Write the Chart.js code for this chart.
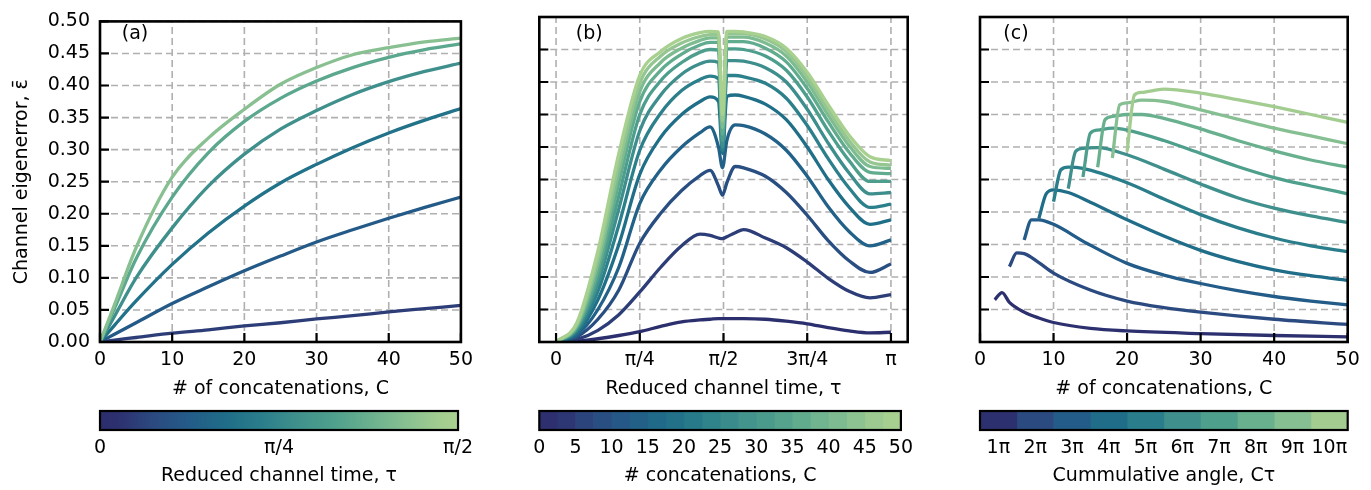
<!DOCTYPE html>
<html>
<head>
<meta charset="utf-8">
<script src="https://cdn.jsdelivr.net/npm/chart.js@4.4.1/dist/chart.umd.min.js"></script>
<style>
  body { margin: 0; background: #fff; width: 1371px; height: 490px; position: relative; overflow: hidden; }
  canvas { position: absolute; }
</style>
</head>
<body>
<canvas id="panel-a" width="480" height="405" style="left:0;top:0"></canvas>
<canvas id="panel-b" width="440" height="405" style="left:480px;top:0"></canvas>
<canvas id="panel-c" width="451" height="405" style="left:920px;top:0"></canvas>
<canvas id="cbar-a" width="480" height="85" style="left:0;top:405px"></canvas>
<canvas id="cbar-b" width="440" height="85" style="left:480px;top:405px"></canvas>
<canvas id="cbar-c" width="451" height="85" style="left:920px;top:405px"></canvas>
<script>
// ---- data ----
// (a) eigenerror vs # of concatenations, one line per reduced channel time tau (units of pi)
const concatA = [0, 2, 5, 10, 15, 20, 25, 30, 35, 40, 45, 50];
const tauA = [0.05, 0.12, 0.19, 0.275, 0.35, 0.43];
const errA = [
  [0, 0.003, 0.007, 0.0138, 0.019, 0.025, 0.030, 0.036, 0.041, 0.047, 0.052, 0.057],
  [0, 0.012, 0.030, 0.060, 0.086, 0.111, 0.134, 0.156, 0.175, 0.193, 0.210, 0.226],
  [0, 0.026, 0.064, 0.121, 0.170, 0.212, 0.248, 0.277, 0.303, 0.326, 0.346, 0.364],
  [0, 0.040, 0.100, 0.178, 0.243, 0.293, 0.332, 0.361, 0.386, 0.406, 0.422, 0.435],
  [0, 0.052, 0.130, 0.226, 0.295, 0.344, 0.380, 0.407, 0.428, 0.444, 0.456, 0.465],
  [0, 0.058, 0.147, 0.257, 0.318, 0.363, 0.402, 0.428, 0.448, 0.459, 0.468, 0.474]
];

// (b) eigenerror vs reduced channel time (units of pi), one line per # of concatenations
const tauB = [0, 0.0625, 0.125, 0.1875, 0.25, 0.3125, 0.375, 0.43, 0.46, 0.485, 0.497, 0.51, 0.535, 0.56, 0.625, 0.6875, 0.75, 0.8125, 0.875, 0.9375, 1];
const concatB = [1, 5, 9, 14, 18, 23, 27, 32, 36, 41, 45, 50];
const errB = [
  [0, 0.001, 0.005, 0.010, 0.016, 0.024, 0.031, 0.034, 0.035, 0.036, 0.036, 0.036, 0.036, 0.036, 0.035, 0.032, 0.028, 0.022, 0.017, 0.014, 0.015],
  [0, 0.004, 0.018, 0.042, 0.077, 0.115, 0.148, 0.166, 0.164, 0.160, 0.159, 0.162, 0.168, 0.173, 0.160, 0.145, 0.123, 0.098, 0.078, 0.068, 0.073],
  [0, 0.008, 0.035, 0.080, 0.152, 0.198, 0.233, 0.256, 0.264, 0.240, 0.226, 0.245, 0.270, 0.268, 0.255, 0.230, 0.195, 0.156, 0.125, 0.107, 0.120],
  [0, 0.011, 0.050, 0.115, 0.213, 0.265, 0.300, 0.322, 0.331, 0.300, 0.268, 0.310, 0.334, 0.333, 0.320, 0.295, 0.255, 0.208, 0.170, 0.148, 0.157],
  [0, 0.014, 0.065, 0.150, 0.258, 0.315, 0.350, 0.370, 0.377, 0.370, 0.290, 0.378, 0.380, 0.378, 0.366, 0.342, 0.300, 0.250, 0.208, 0.181, 0.188],
  [0, 0.017, 0.078, 0.180, 0.295, 0.352, 0.387, 0.404, 0.409, 0.405, 0.295, 0.410, 0.410, 0.408, 0.398, 0.375, 0.333, 0.282, 0.237, 0.207, 0.212],
  [0, 0.020, 0.090, 0.205, 0.325, 0.380, 0.412, 0.428, 0.432, 0.430, 0.300, 0.433, 0.433, 0.432, 0.422, 0.400, 0.358, 0.306, 0.260, 0.228, 0.230],
  [0, 0.022, 0.100, 0.225, 0.350, 0.402, 0.430, 0.446, 0.450, 0.449, 0.310, 0.451, 0.451, 0.450, 0.440, 0.418, 0.377, 0.325, 0.279, 0.247, 0.247],
  [0, 0.024, 0.110, 0.245, 0.370, 0.418, 0.443, 0.457, 0.461, 0.461, 0.320, 0.462, 0.462, 0.462, 0.452, 0.431, 0.390, 0.339, 0.292, 0.261, 0.259],
  [0, 0.026, 0.120, 0.260, 0.385, 0.430, 0.452, 0.464, 0.468, 0.468, 0.330, 0.469, 0.469, 0.469, 0.460, 0.440, 0.400, 0.349, 0.302, 0.270, 0.267],
  [0, 0.028, 0.130, 0.275, 0.398, 0.440, 0.460, 0.470, 0.473, 0.473, 0.340, 0.474, 0.474, 0.474, 0.466, 0.447, 0.408, 0.357, 0.310, 0.277, 0.272],
  [0, 0.030, 0.140, 0.290, 0.410, 0.447, 0.467, 0.476, 0.478, 0.477, 0.350, 0.478, 0.478, 0.477, 0.470, 0.452, 0.415, 0.365, 0.318, 0.285, 0.279]
];

// (c) eigenerror vs # of concatenations, one line per cumulative angle (units of pi)
const angleC = [1, 2, 3, 4, 5, 6, 7, 8, 9, 10];
const concatC = [
  [2, 3, 4, 6, 8, 10, 15, 20, 30, 40, 50],
  [4, 5, 6, 8, 10, 15, 20, 25, 30, 40, 50],
  [6, 7, 8, 10, 14.5, 20, 25, 30, 35, 40, 45, 50],
  [8, 9, 10, 12, 15, 20, 25, 30, 35, 40, 45, 50],
  [10, 11, 12, 14, 20, 25, 30, 35, 40, 45, 50],
  [12, 13, 14, 16, 20, 25, 30, 35, 40, 45, 50],
  [14, 15, 16, 18, 20, 25, 30, 35, 40, 45, 50],
  [16, 17, 18, 20, 22, 25, 30, 35, 40, 45, 50],
  [18, 19, 20, 22, 25, 30, 35, 40, 45, 50],
  [20, 21, 22, 25, 30, 35, 40, 45, 50]
];
const errC = [
  [0.065, 0.076, 0.061, 0.046, 0.037, 0.030, 0.021, 0.017, 0.013, 0.010, 0.008],
  [0.116, 0.137, 0.136, 0.122, 0.106, 0.080, 0.063, 0.053, 0.046, 0.035, 0.027],
  [0.157, 0.188, 0.188, 0.181, 0.152, 0.121, 0.103, 0.090, 0.079, 0.070, 0.063, 0.057],
  [0.190, 0.228, 0.234, 0.230, 0.215, 0.188, 0.163, 0.141, 0.124, 0.111, 0.102, 0.095],
  [0.216, 0.265, 0.269, 0.267, 0.245, 0.220, 0.196, 0.176, 0.160, 0.148, 0.139],
  [0.236, 0.293, 0.298, 0.299, 0.288, 0.266, 0.243, 0.222, 0.206, 0.194, 0.184],
  [0.254, 0.321, 0.326, 0.329, 0.326, 0.310, 0.290, 0.270, 0.253, 0.240, 0.228],
  [0.269, 0.342, 0.347, 0.350, 0.350, 0.344, 0.328, 0.310, 0.294, 0.280, 0.269],
  [0.283, 0.365, 0.368, 0.372, 0.370, 0.357, 0.343, 0.329, 0.317, 0.305],
  [0.293, 0.380, 0.384, 0.389, 0.383, 0.373, 0.362, 0.350, 0.338]
];

// ticks
const errTicks = [0, 0.05, 0.1, 0.15, 0.2, 0.25, 0.3, 0.35, 0.4, 0.45, 0.5];
const concatTicks = [0, 10, 20, 30, 40, 50];
const tauTicks = [0, 0.25, 0.5, 0.75, 1];
const tauTickLabels = ['0', 'π/4', 'π/2', '3π/4', 'π'];
const cbarTauTicks = [0, 0.25, 0.5];
const cbarTauLabels = ['0', 'π/4', 'π/2'];
const cbarConcatTicks = [0, 5, 10, 15, 20, 25, 30, 35, 40, 45, 50];

// ---- colormap (crest, dark -> light) ----
const crestStops = [
  [0.00, [44, 46, 108]], [0.05, [45, 48, 111]], [0.15, [43, 74, 128]], [0.25, [35, 92, 136]],
  [0.35, [31, 109, 136]], [0.45, [42, 126, 139]], [0.55, [63, 144, 140]], [0.65, [78, 159, 140]],
  [0.75, [105, 176, 143]], [0.85, [134, 191, 145]], [0.95, [163, 205, 144]], [1.00, [168, 208, 143]]
];
function cmap(t) {
  t = Math.max(0, Math.min(1, t));
  for (let i = 1; i < crestStops.length; i++) {
    const [t1, c1] = crestStops[i];
    const [t0, c0] = crestStops[i - 1];
    if (t <= t1) {
      const f = (t - t0) / (t1 - t0);
      const c = c0.map((v, k) => Math.round(v + f * (c1[k] - v)));
      return `rgb(${c[0]},${c[1]},${c[2]})`;
    }
  }
  const c = crestStops[crestStops.length - 1][1];
  return `rgb(${c[0]},${c[1]},${c[2]})`;
}

const FONT = 'DejaVu Sans';
const FONT_SIZE = 19;
Chart.defaults.font.family = FONT;
Chart.defaults.font.size = FONT_SIZE;
Chart.defaults.color = '#000';

// dashed grid, inward ticks, black frame and panel letter
const axesDecor = {
  id: 'axesDecor',
  beforeDatasetsDraw(chart, args, opts) {
    if (!opts.grid) return;
    const { ctx, chartArea: a, scales: { x, y } } = chart;
    ctx.save();
    ctx.strokeStyle = '#b0b0b0';
    ctx.lineWidth = 1.6;
    ctx.setLineDash([7, 4]);
    ctx.beginPath();
    x.ticks.forEach(t => {
      const px = x.getPixelForValue(t.value);
      ctx.moveTo(px, a.bottom); ctx.lineTo(px, a.top);
    });
    y.ticks.forEach(t => {
      const py = y.getPixelForValue(t.value);
      ctx.moveTo(a.left, py); ctx.lineTo(a.right, py);
    });
    ctx.stroke();
    ctx.restore();
  },
  afterDraw(chart, args, opts) {
    const { ctx, chartArea: a, scales } = chart;
    ctx.save();
    if (opts.ticks) {
      ctx.strokeStyle = '#000';
      ctx.lineWidth = 2.2;
      ctx.beginPath();
      scales.x.ticks.forEach(t => {
        const px = scales.x.getPixelForValue(t.value);
        ctx.moveTo(px, a.bottom); ctx.lineTo(px, a.bottom - 9);
      });
      scales.y.ticks.forEach(t => {
        const py = scales.y.getPixelForValue(t.value);
        ctx.moveTo(a.left, py); ctx.lineTo(a.left + 9, py);
      });
      ctx.stroke();
    }
    ctx.strokeStyle = '#000';
    ctx.lineWidth = opts.frameWidth || 2.6;
    ctx.strokeRect(a.left, a.top, a.right - a.left, a.bottom - a.top);
    if (opts.label) {
      ctx.fillStyle = '#000';
      ctx.font = `${FONT_SIZE}px "${FONT}"`;
      ctx.textAlign = 'center';
      ctx.textBaseline = 'middle';
      ctx.fillText(opts.label, a.left + opts.labelDx, 34);
    }
    ctx.restore();
  }
};

function panel(id, cfg) {
  new Chart(document.getElementById(id), {
    type: 'line',
    data: { datasets: cfg.datasets },
    plugins: [axesDecor],
    options: {
      responsive: false,
      animation: false,
      events: [],
      layout: { padding: { top: 17, right: cfg.padRight, left: 0, bottom: 0 } },
      elements: {
        point: { radius: 0 },
        line: { borderWidth: 3.3, cubicInterpolationMode: 'monotone', capBezierPoints: true }
      },
      plugins: {
        legend: { display: false },
        tooltip: { enabled: false },
        axesDecor: { grid: true, ticks: true, label: cfg.label, labelDx: cfg.labelDx }
      },
      scales: {
        x: {
          type: 'linear', min: cfg.xMin, max: cfg.xMax,
          grid: { display: false, drawTicks: false }, border: { display: false },
          afterBuildTicks: s => { s.ticks = cfg.xTicks.map(v => ({ value: v })); },
          afterFit: s => { s.height = 63; },
          ticks: { padding: 7, autoSkip: false, maxRotation: 0, callback: cfg.xFormat },
          title: { display: true, text: cfg.xTitle, padding: { top: 0, bottom: 5 } }
        },
        y: {
          type: 'linear', min: 0, max: 0.5,
          grid: { display: false, drawTicks: false }, border: { display: false },
          afterBuildTicks: s => { s.ticks = errTicks.map(v => ({ value: v })); },
          afterFit: s => { s.width = cfg.yWidth; },
          ticks: { display: cfg.yLabels, padding: 10, callback: v => v.toFixed(2) },
          title: { display: !!cfg.yTitle, text: cfg.yTitle || '', padding: { top: 11, bottom: 0 } }
        }
      }
    }
  });
}

function colorbar(id, cfg) {
  new Chart(document.getElementById(id), {
    type: 'bar',
    data: {
      labels: ['cbar'],
      datasets: cfg.segments.map(s => ({
        data: [[s.lo, s.hi]],
        backgroundColor: s.color,
        borderWidth: 0,
        barPercentage: 1,
        categoryPercentage: 1,
        grouped: false
      }))
    },
    plugins: [axesDecor],
    options: {
      indexAxis: 'y',
      responsive: false,
      animation: false,
      events: [],
      layout: { padding: { top: 6, right: cfg.padRight, left: cfg.padLeft, bottom: 0 } },
      plugins: {
        legend: { display: false },
        tooltip: { enabled: false },
        axesDecor: { grid: false, ticks: false, frameWidth: 2.2 }
      },
      scales: {
        x: {
          type: 'linear', min: cfg.min, max: cfg.max,
          grid: { display: false, drawTicks: false }, border: { display: false },
          afterBuildTicks: s => { s.ticks = cfg.ticks.map(v => ({ value: v })); },
          afterFit: s => { s.height = 60; },
          ticks: { padding: 7, autoSkip: false, maxRotation: 0, callback: cfg.format },
          title: { display: true, text: cfg.title, padding: { top: 0, bottom: 3 } }
        },
        y: { display: false }
      }
    }
  });
}

// ---- panel (a) ----
panel('panel-a', {
  datasets: errA.map((row, i) => ({
    data: concatA.map((c, k) => ({ x: c, y: row[k] })),
    borderColor: cmap(tauA[i] / 0.5),
    order: errA.length - 1 - i,
    clip: 0
  })),
  xMin: 0, xMax: 50, xTicks: concatTicks, xFormat: v => String(v),
  xTitle: '# of concatenations, C',
  yTitle: 'Channel eigenerror, ε\u0304', yLabels: true, yWidth: 100,
  padRight: 12.3, label: '(a)', labelDx: 35
});

// ---- panel (b) ----
panel('panel-b', {
  datasets: errB.map((row, i) => ({
    data: tauB.map((t, k) => ({ x: t, y: row[k] })),
    borderColor: cmap(concatB[i] / 50),
    order: errB.length - 1 - i,
    clip: 0
  })),
  xMin: -0.05, xMax: 1.05, xTicks: tauTicks,
  xFormat: (v, i) => tauTickLabels[i],
  xTitle: 'Reduced channel time, τ',
  yLabels: false, yWidth: 59.3,
  padRight: 12.3, label: '(b)', labelDx: 50
});

// ---- panel (c) ----
panel('panel-c', {
  datasets: errC.map((row, i) => ({
    data: concatC[i].map((c, k) => ({ x: c, y: row[k] })),
    borderColor: cmap((angleC[i] - 0.5) / 10),
    order: errC.length - 1 - i,
    clip: 0
  })),
  xMin: 0, xMax: 50, xTicks: concatTicks, xFormat: v => String(v),
  xTitle: '# of concatenations, C',
  yLabels: false, yWidth: 60,
  padRight: 23.3, label: '(c)', labelDx: 36
});

// ---- colorbars ----
colorbar('cbar-a', {
  segments: [{
    lo: 0, hi: 0.5,
    color: ctx => {
      const a = ctx.chart.chartArea;
      if (!a) return cmap(0.5);
      const g = ctx.chart.ctx.createLinearGradient(a.left, 0, a.right, 0);
      crestStops.forEach(([t, c]) => g.addColorStop(t, `rgb(${c[0]},${c[1]},${c[2]})`));
      return g;
    }
  }],
  min: 0, max: 0.5, ticks: cbarTauTicks, format: (v, i) => cbarTauLabels[i],
  title: 'Reduced channel time, τ', padLeft: 100, padRight: 12.3
});

const segB = [];
for (let i = 0; i < 20; i++) segB.push({ lo: i * 2.5, hi: (i + 1) * 2.5, color: cmap((i + 0.5) / 20) });
colorbar('cbar-b', {
  segments: segB,
  min: 0, max: 50, ticks: cbarConcatTicks, format: v => String(v),
  title: '# concatenations, C', padLeft: 59.3, padRight: 12.3
});

colorbar('cbar-c', {
  segments: angleC.map(k => ({ lo: k - 0.5, hi: k + 0.5, color: cmap((k - 0.5) / 10) })),
  min: 0.5, max: 10.5, ticks: angleC, format: v => v + 'π',
  title: 'Cummulative angle, Cτ', padLeft: 60, padRight: 23.3
});
</script>
</body>
</html>
